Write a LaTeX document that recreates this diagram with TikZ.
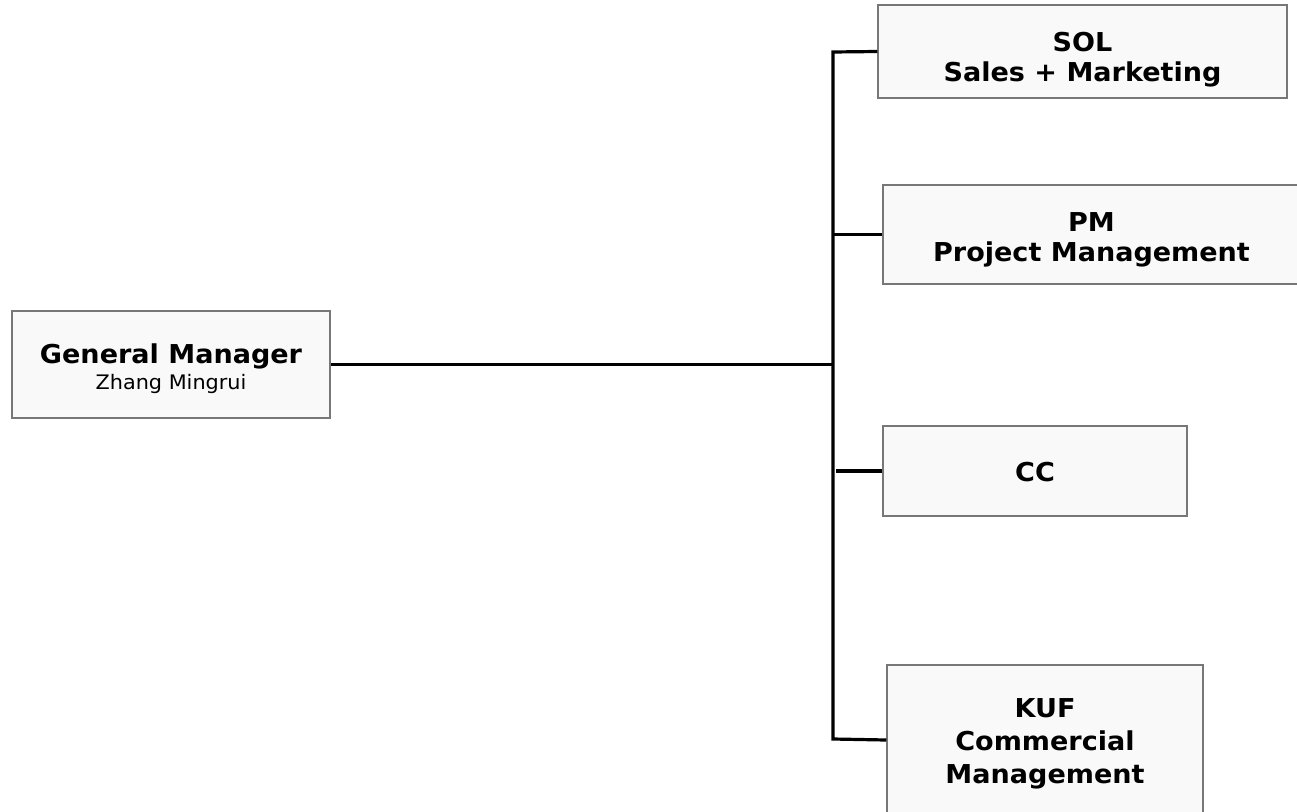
\documentclass[tikz,border=0pt]{standalone}
\usepackage{fontspec}
\setmainfont{DejaVu Sans}[FakeStretch=1.04]
\definecolor{boxfill}{HTML}{F9F9F9}
\definecolor{boxline}{HTML}{777777}
\begin{document}
\begin{tikzpicture}[x=1pt,y=-1pt,
  unit/.style={draw=boxline, line width=1.5pt, fill=boxfill, rectangle, inner sep=0pt},
  txt/.style={align=center, inner sep=0pt, font=\fontsize{26}{33}\selectfont\bfseries},
  link/.style={line width=3.2pt, black}]
\clip (0,0) rectangle (1297,811);
\fill[white] (0,0) rectangle (1297,811);
\node[unit, minimum width=318pt, minimum height=107pt] (gm) at (171,364.5) {};
\node[unit, minimum width=409pt, minimum height=93pt] (sol) at (1082.5,51.5) {};
\node[unit, minimum width=417pt, minimum height=99pt] (pm) at (1091.5,234.5) {};
\node[unit, minimum width=304pt, minimum height=90pt] (cc) at (1035,471) {};
\node[unit, minimum width=316pt, minimum height=150pt] (kuf) at (1045,740) {};
\node[txt] (gmt) at ([yshift=-4pt]gm.center)
  {General Manager\\[-7pt]{\fontsize{20}{25}\selectfont\mdseries Zhang Mingrui}};
\node[txt] (solt) at ([yshift=-8pt]sol.center) {SOL\\[-3pt]Sales + Marketing};
\node[txt] (pmt) at ([yshift=-5pt]pm.center) {PM\\[-3pt]Project Management};
\node[txt] (cct) at ([yshift=-1.5pt]cc.center) {CC};
\node[txt] (kuft) at ([yshift=-4pt]kuf.center) {KUF\\Commercial\\Management};
\coordinate (top) at (833,52);
\coordinate (bot) at (833,739);
\draw[link] (gm.east) -- (gm.east -| top);
\draw[link] (sol.west) -- (top) -- (bot) -- (kuf.west);
\draw[link] (top |- pm.west) -- (pm.west);
\draw[link] ([xshift=3pt]top |- cc.west) -- (cc.west);
\end{tikzpicture}
\end{document}
